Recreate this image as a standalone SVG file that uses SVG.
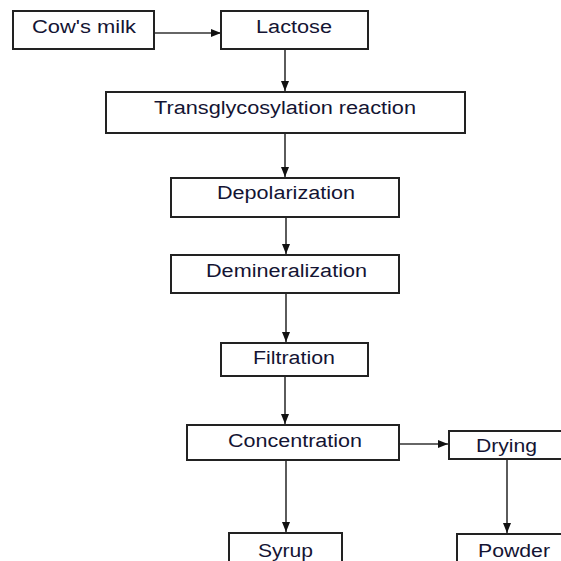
<svg xmlns="http://www.w3.org/2000/svg" width="561" height="561" viewBox="0 0 561 561">
<style>
rect.box{fill:#fff;stroke:#222;stroke-width:2}
text{font-family:"Liberation Sans",Arial,sans-serif;font-size:18px;fill:#141433;text-anchor:middle}
.conn line{stroke:#333;stroke-width:1.6}
</style>
<defs>
<marker id="ah" viewBox="0 0 10 8" refX="10" refY="4" markerWidth="10" markerHeight="8" markerUnits="userSpaceOnUse" orient="auto">
<path d="M0,0 L10,4 L0,8 Z" fill="#111"/>
</marker>
</defs>
<rect width="561" height="561" fill="#fff"/>
<g class="conn">
<line x1="154" y1="33" x2="221" y2="33" marker-end="url(#ah)"/>
<line x1="285" y1="49" x2="285" y2="91" marker-end="url(#ah)"/>
<line x1="285" y1="133" x2="285" y2="177" marker-end="url(#ah)"/>
<line x1="286" y1="217" x2="286" y2="254" marker-end="url(#ah)"/>
<line x1="286" y1="293" x2="286" y2="342" marker-end="url(#ah)"/>
<line x1="285" y1="376" x2="285" y2="424" marker-end="url(#ah)"/>
<line x1="399" y1="444" x2="448" y2="444" marker-end="url(#ah)"/>
<line x1="286" y1="460" x2="286" y2="532" marker-end="url(#ah)"/>
<line x1="507" y1="459" x2="507" y2="533" marker-end="url(#ah)"/>
</g>
<g id="cow"><rect class="box" x="13" y="11" width="141" height="38"/><text x="84" y="33" textLength="104" lengthAdjust="spacingAndGlyphs">Cow's milk</text></g>
<g id="lactose"><rect class="box" x="221" y="11" width="147" height="38"/><text x="294" y="33" textLength="76" lengthAdjust="spacingAndGlyphs">Lactose</text></g>
<g id="trans"><rect class="box" x="106" y="92" width="359" height="41"/><text x="285" y="114" textLength="262" lengthAdjust="spacingAndGlyphs">Transglycosylation reaction</text></g>
<g id="depol"><rect class="box" x="171" y="178" width="228" height="39"/><text x="286" y="199" textLength="138" lengthAdjust="spacingAndGlyphs">Depolarization</text></g>
<g id="demin"><rect class="box" x="171" y="255" width="228" height="38"/><text x="286.5" y="277" textLength="161" lengthAdjust="spacingAndGlyphs">Demineralization</text></g>
<g id="filt"><rect class="box" x="221" y="343" width="147" height="33"/><text x="294" y="364" textLength="82" lengthAdjust="spacingAndGlyphs">Filtration</text></g>
<g id="conc"><rect class="box" x="187" y="425" width="212" height="35"/><text x="295" y="447" textLength="134" lengthAdjust="spacingAndGlyphs">Concentration</text></g>
<g id="drying"><rect class="box" x="449" y="431" width="115" height="28"/><text x="506.5" y="452" textLength="61" lengthAdjust="spacingAndGlyphs">Drying</text></g>
<g id="syrup"><rect class="box" x="229" y="533" width="113" height="34"/><text x="285.5" y="557" textLength="55" lengthAdjust="spacingAndGlyphs">Syrup</text></g>
<g id="powder"><rect class="box" x="457" y="534" width="108" height="34"/><text x="514" y="557" textLength="72" lengthAdjust="spacingAndGlyphs">Powder</text></g>
</svg>
